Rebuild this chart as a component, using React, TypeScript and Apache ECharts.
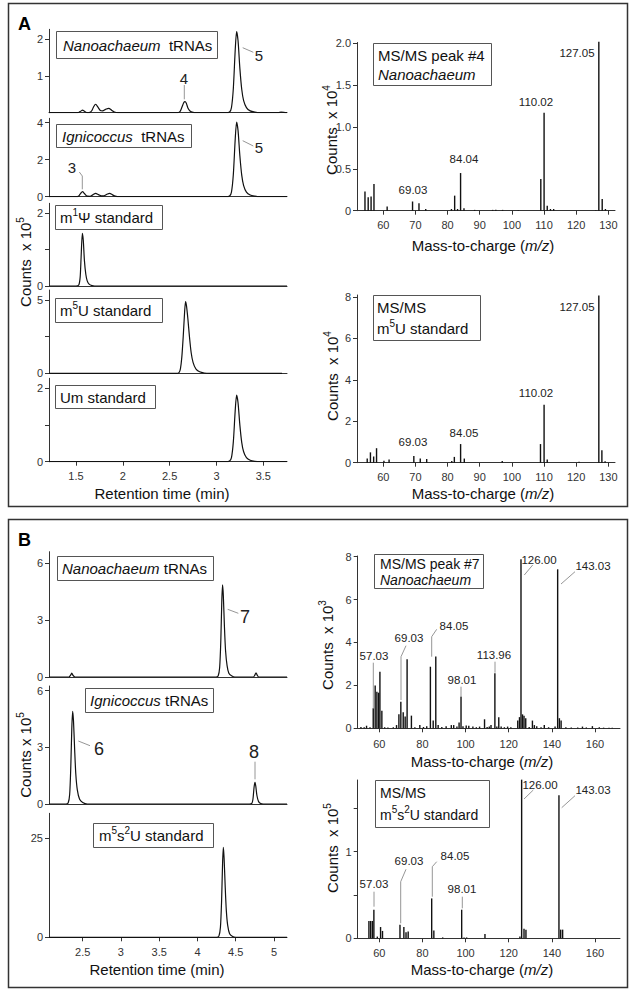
import React, { useEffect, useRef } from "react";
import * as echarts from "echarts";

const FONT = "'Liberation Sans', Arial, Helvetica, sans-serif";
const INK = "#111";
const AXIS = "#333";
const LEAD = "#8a8a8a";

// ---------------- Panel A: chromatograms (retention time, min ; counts x10^5)
const aNanoTrace = [
  [1.212, 0], [1.5, 0], [1.53, 0.01], [1.55, 0.04], [1.57, 0.07], [1.59, 0.04], [1.62, 0], [1.65, 0.01],
  [1.67, 0.06], [1.69, 0.17], [1.71, 0.23], [1.735, 0.15], [1.76, 0.06], [1.785, 0.05], [1.815, 0.09],
  [1.85, 0.12], [1.88, 0.07], [1.91, 0.02], [1.95, 0], [2.58, 0], [2.61, 0.03], [2.63, 0.14], [2.65, 0.27],
  [2.664, 0.3], [2.678, 0.26], [2.695, 0.13], [2.72, 0.04], [2.75, 0.01], [2.78, 0], [3.1, 0], [3.14, 0.02],
  [3.16, 0.14], [3.18, 0.66], [3.2, 1.7], [3.215, 2.21], [3.23, 1.97], [3.25, 1.2], [3.27, 0.63], [3.29, 0.33],
  [3.32, 0.14], [3.36, 0.05], [3.41, 0.015], [3.46, 0], [3.66, 0], [3.69, 0.015], [3.72, 0.01], [3.753, 0],
];
const aIgniTrace = [
  [1.212, 0], [1.5, 0], [1.53, 0.04], [1.55, 0.18], [1.57, 0.27], [1.59, 0.17], [1.62, 0.03], [1.65, 0.02],
  [1.68, 0.1], [1.71, 0.18], [1.74, 0.11], [1.77, 0.04], [1.8, 0.05], [1.83, 0.13], [1.86, 0.18], [1.89, 0.1],
  [1.92, 0.03], [1.96, 0], [3.1, 0], [3.14, 0.04], [3.16, 0.25], [3.18, 1.2], [3.2, 3.1], [3.215, 4.04],
  [3.23, 3.6], [3.25, 2.2], [3.27, 1.15], [3.29, 0.6], [3.32, 0.25], [3.36, 0.09], [3.41, 0.03], [3.46, 0], [3.753, 0],
];
const aM1PsiTrace = [
  [1.212, 0], [1.5, 0], [1.53, 0.03], [1.545, 0.25], [1.555, 0.8], [1.568, 1.44], [1.578, 1.25], [1.59, 0.7],
  [1.605, 0.32], [1.62, 0.14], [1.64, 0.05], [1.67, 0.01], [1.7, 0], [3.753, 0],
];
const aM5UTrace = [
  [1.212, 0], [2.57, 0], [2.6, 0.05], [2.615, 0.3], [2.63, 1.1], [2.645, 2.5], [2.66, 4.2], [2.67, 4.89],
  [2.68, 4.6], [2.695, 3.7], [2.71, 2.6], [2.73, 1.4], [2.75, 0.75], [2.78, 0.3], [2.82, 0.1], [2.87, 0.02],
  [2.93, 0], [3.7, 0],
];
const aUmTrace = [
  [1.212, 0], [3.1, 0], [3.14, 0.02], [3.16, 0.11], [3.18, 0.54], [3.2, 1.39], [3.215, 1.81], [3.23, 1.61],
  [3.25, 0.99], [3.27, 0.52], [3.29, 0.27], [3.32, 0.11], [3.36, 0.04], [3.41, 0.01], [3.46, 0], [3.753, 0],
];

// ---------------- Panel A: MS/MS spectra (m/z ; counts x10^4)
const aMsPeak4 = [
  [54.3, 0.23], [55.3, 0.16], [56.2, 0.17], [57.1, 0.32], [61.2, 0.05], [69.1, 0.11], [71.1, 0.09], [73.2, 0.02],
  [81.2, 0.02], [82.2, 0.18], [83.1, 0.02], [84.04, 0.45], [85.1, 0.03], [88.4, 0.01], [94.0, 0.01], [95.0, 0.01],
  [97.1, 0.01], [102.0, 0.005], [109.0, 0.38], [110.02, 1.17], [111.0, 0.06], [112.0, 0.02], [113.0, 0.02],
  [126.1, 0.005], [127.05, 2.02], [128.1, 0.14], [129.1, 0.02],
];
const aMsM5U = [
  [55.0, 0.2], [56.0, 0.5], [57.0, 0.3], [57.9, 0.7], [60.2, 0.1], [61.8, 0.15], [69.5, 0.32], [71.5, 0.2],
  [73.5, 0.18], [81.3, 0.08], [82.1, 0.28], [84.05, 0.9], [85.2, 0.2], [97.0, 0.08], [108.9, 0.9], [110.02, 2.8],
  [111.0, 0.15], [120.9, 0.05], [127.05, 8.07], [128.0, 0.6], [129.0, 0.07],
];

// ---------------- Panel B: chromatograms (retention time, min ; counts x10^5)
const bNanoTrace = [
  [2.06, 0], [2.32, 0], [2.34, 0.08], [2.357, 0.2], [2.375, 0.08], [2.4, 0], [4.24, 0], [4.27, 0.05], [4.29, 0.5],
  [4.305, 1.9], [4.318, 4.0], [4.328, 4.86], [4.338, 4.3], [4.352, 2.7], [4.367, 1.4], [4.387, 0.6], [4.41, 0.2],
  [4.45, 0.05], [4.49, 0], [4.73, 0], [4.75, 0.1], [4.765, 0.22], [4.78, 0.1], [4.8, 0], [5.17, 0],
];
const bIgniTrace = [
  [2.06, 0], [2.28, 0], [2.31, 0.05], [2.33, 0.5], [2.345, 2.0], [2.358, 4.0], [2.369, 4.9], [2.38, 4.4],
  [2.395, 2.9], [2.41, 1.6], [2.43, 0.75], [2.46, 0.25], [2.5, 0.08], [2.56, 0], [4.68, 0], [4.71, 0.03],
  [4.725, 0.25], [4.74, 0.9], [4.752, 1.15], [4.762, 0.95], [4.777, 0.45], [4.797, 0.15], [4.82, 0.04], [4.86, 0],
  [5.17, 0],
];
const bM5s2UTrace = [
  [2.06, 0], [4.25, 0], [4.28, 0.3], [4.3, 2.5], [4.315, 9], [4.328, 18.5], [4.338, 22.7], [4.348, 20],
  [4.362, 13], [4.377, 6.8], [4.395, 3], [4.42, 0.9], [4.46, 0.2], [4.5, 0], [5.17, 0],
];

// ---------------- Panel B: MS/MS spectra
const bMsPeak7 = [ // counts x10^3
  [51.5, 0.06], [53.0, 0.05], [54.1, 0.12], [55.7, 0.05], [57.2, 0.93], [58.1, 2.0], [58.9, 1.7], [59.7, 1.66],
  [60.3, 2.64], [61.2, 0.82], [62.5, 0.05], [64.0, 0.04], [66.5, 0.05], [68.0, 0.15], [69.1, 0.65], [70.0, 1.24],
  [71.1, 0.75], [72.0, 0.55], [72.9, 3.22], [74.9, 0.59], [76.5, 0.05], [78.8, 0.15], [80.5, 0.06], [82.0, 0.1],
  [83.7, 2.87], [85.0, 0.36], [86.2, 3.35], [87.3, 0.15], [89.0, 0.06], [91.0, 0.1], [93.4, 0.15], [94.5, 0.15],
  [96.0, 0.08], [97.0, 0.27], [97.9, 1.48], [98.8, 0.1], [100.3, 0.13], [101.5, 0.12], [103.4, 0.08], [105.0, 0.05],
  [106.5, 0.08], [108.8, 0.42], [110.0, 0.06], [111.0, 0.08], [111.8, 0.15], [113.6, 2.57], [114.5, 0.08],
  [115.4, 0.52], [116.5, 0.08], [118.0, 0.05], [119.5, 0.08], [121.0, 0.05], [124.2, 0.36], [125.0, 0.52],
  [125.7, 7.88], [126.4, 0.65], [127.1, 0.58], [127.9, 0.47], [129.5, 0.06], [131.0, 0.36], [131.9, 0.15],
  [133.0, 0.1], [135.0, 0.05], [136.5, 0.15], [138.5, 0.05], [141.5, 0.08], [142.7, 7.41], [143.5, 0.47],
  [144.3, 0.36], [146.5, 0.05], [149.0, 0.04], [152.0, 0.04], [154.2, 0.08], [156.0, 0.04], [158.8, 0.1],
  [162.0, 0.05], [164.0, 0.03], [166.5, 0.03], [168.0, 0.03],
];
const bMsM5s2U = [ // counts x10^5
  [55.2, 0.2], [56.0, 0.2], [56.8, 0.2], [57.5, 0.33], [59.1, 0.02], [60.6, 0.13], [61.5, 0.085], [69.6, 0.155],
  [71.4, 0.13], [72.4, 0.07], [73.4, 0.077], [84.3, 0.46], [85.3, 0.09], [89.4, 0.01], [98.2, 0.33], [99.3, 0.01],
  [100.5, 0.01], [109.0, 0.05], [125.2, 0.02], [126.0, 1.83], [127.1, 0.11], [128.0, 0.1], [143.3, 1.65],
  [144.1, 0.1], [145.0, 0.1],
];

// ---------------- Tick values
const aRetTicks = [1.5, 2, 2.5, 3, 3.5];
const bRetTicks = [2.5, 3, 3.5, 4, 4.5, 5];
const aMzTicks = [60, 70, 80, 90, 100, 110, 120, 130];
const bMzTicks = [60, 80, 100, 120, 140, 160];
const yTicksANano = [1, 2];
const yTicksAIgni = [0, 2, 4];
const yTicksStd2 = [0, 1, 2];
const yLabelsStd2 = [0, 2];
const yTicksM5U = [0, 2.5, 5];
const yLabelsM5U = [0, 5];
const yTicksMs4 = [0, 0.5, 1, 1.5, 2];
const yTicksMs8 = [0, 2, 4, 6, 8];
const yTicksB6 = [0, 3, 6];
const yTicksB25 = [0, 25];
const yTicksMsB5 = [0, 0.5, 1, 1.5];
const yLabelsMsB5 = [0, 1];

// ---------------- Layout (pixels)
const PANELS = [
  { x: 8.5, y: 3.5, w: 619, h: 503, letter: "A" },
  { x: 8.5, y: 519.5, w: 619, h: 468, letter: "B" },
];

const fmt1 = (v: number) => (v === 0 ? "0" : v.toFixed(1));

const CHARTS: any[] = [
  { g: [49, 29.3, 238, 83.4], x: [1.212, 3.753], y: [0, 2.27], yt: yTicksANano, yl: yTicksANano, data: aNanoTrace, kind: "line" },
  { g: [49, 118.3, 238, 78.4], x: [1.212, 3.753], y: [0, 4.24], yt: yTicksAIgni, yl: yTicksAIgni, data: aIgniTrace, kind: "line" },
  { g: [49, 203.3, 238, 82.7], x: [1.212, 3.753], y: [0, 2.26], yt: yTicksStd2, yl: yLabelsStd2, data: aM1PsiTrace, kind: "line" },
  { g: [49, 290, 238, 83.3], x: [1.212, 3.753], y: [0, 5.68], yt: yTicksM5U, yl: yLabelsM5U, data: aM5UTrace, kind: "line" },
  { g: [49, 378.3, 238, 83.4], x: [1.212, 3.753], y: [0, 2.27], yt: yTicksStd2, yl: yLabelsStd2, data: aUmTrace, kind: "line", xt: aRetTicks, xm: 9 },
  { g: [357, 42.5, 258, 168.2], x: [51.82, 132.08], y: [0, 2.01], yt: yTicksMs4, yl: yTicksMs4, yf: fmt1, data: aMsPeak4, kind: "bar", xt: aMzTicks, xm: 9 },
  { g: [357, 295, 258, 167.7], x: [51.82, 132.08], y: [0, 8.1], yt: yTicksMs8, yl: yTicksMs8, data: aMsM5U, kind: "bar", xt: aMzTicks, xm: 9 },
  { g: [49, 551.7, 238, 125.3], x: [2.06, 5.17], y: [0, 6.61], yt: yTicksB6, yl: yTicksB6, data: bNanoTrace, kind: "line" },
  { g: [49, 686, 238, 118], x: [2.06, 5.17], y: [0, 6.24], yt: yTicksB6, yl: yTicksB6, data: bIgniTrace, kind: "line" },
  { g: [49, 813.3, 238, 124], x: [2.06, 5.17], y: [0, 31.3], yt: yTicksB25, yl: yTicksB25, data: bM5s2UTrace, kind: "line", xt: bRetTicks, xm: 9 },
  { g: [357.7, 556, 262.3, 172.3], x: [50, 171.6], y: [0, 8.03], yt: yTicksMs8, yl: yTicksMs8, data: bMsPeak7, kind: "bar", xt: bMzTicks, xm: 10 },
  { g: [357.7, 780, 262.3, 158.3], x: [50, 171.6], y: [0, 1.826], yt: yTicksMsB5, yl: yLabelsMsB5, data: bMsM5s2U, kind: "bar", xt: bMzTicks, xm: 9 },
];

const BOXES = [
  { x: 56, y: 31, w: 161, h: 27, tx: 63, fs: 15, lh: 20, text: "{i|Nanoachaeum}  tRNAs" },
  { x: 56, y: 124, w: 135, h: 23, tx: 62, fs: 15, lh: 20, text: "{i|Ignicoccus}  tRNAs" },
  { x: 55, y: 205, w: 107, h: 24, tx: 60, fs: 15, lh: 20, text: "m{s|1}Ψ standard" },
  { x: 55, y: 298, w: 107, h: 24, tx: 60, fs: 15, lh: 20, text: "m{s|5}U standard" },
  { x: 55, y: 385, w: 100, h: 23, tx: 60, fs: 15, lh: 20, text: "Um standard" },
  { x: 373, y: 43, w: 118, h: 42, tx: 378, fs: 15, lh: 19, text: "MS/MS peak #4\n{i|Nanoachaeum}" },
  { x: 373, y: 295, w: 107, h: 45, tx: 377, fs: 15, lh: 21, text: "MS/MS\nm{s|5}U standard" },
  { x: 57, y: 556, w: 156, h: 24, tx: 62, fs: 15, lh: 20, text: "{i|Nanoachaeum} tRNAs" },
  { x: 85, y: 688, w: 128, h: 24, tx: 90, fs: 15, lh: 20, text: "{i|Ignicoccus} tRNAs" },
  { x: 93, y: 823, w: 120, h: 24, tx: 99, fs: 15, lh: 20, text: "m{s|5}s{s|2}U standard" },
  { x: 374, y: 554, w: 109, h: 34, tx: 380, fs: 14, lh: 16, text: "MS/MS peak #7\n{i|Nanoachaeum}" },
  { x: 375, y: 780, w: 114, h: 47, tx: 380, fs: 14, lh: 22, text: "MS/MS\nm{s|5}s{s|2}U standard" },
];

const NOTES = [
  { x: 259, y: 55, t: "5", fs: 15 }, { x: 184, y: 78, t: "4", fs: 15 }, { x: 259, y: 147, t: "5", fs: 15 },
  { x: 72, y: 167, t: "3", fs: 15 }, { x: 245, y: 617, t: "7", fs: 18 }, { x: 99, y: 749, t: "6", fs: 18 },
  { x: 254, y: 752, t: "8", fs: 18 },
  { x: 577, y: 53, t: "127.05", fs: 11.5 }, { x: 536, y: 102, t: "110.02", fs: 11.5 },
  { x: 464, y: 159, t: "84.04", fs: 11.5 }, { x: 413, y: 190, t: "69.03", fs: 11.5 },
  { x: 577, y: 307, t: "127.05", fs: 11.5 }, { x: 536, y: 393, t: "110.02", fs: 11.5 },
  { x: 464, y: 433, t: "84.05", fs: 11.5 }, { x: 413, y: 442, t: "69.03", fs: 11.5 },
  { x: 539, y: 560, t: "126.00", fs: 11.5 }, { x: 593, y: 566, t: "143.03", fs: 11.5 },
  { x: 454, y: 626, t: "84.05", fs: 11.5 }, { x: 409, y: 638, t: "69.03", fs: 11.5 },
  { x: 374, y: 656, t: "57.03", fs: 11.5 }, { x: 462, y: 680, t: "98.01", fs: 11.5 },
  { x: 494, y: 655, t: "113.96", fs: 11.5 },
  { x: 540, y: 785, t: "126.00", fs: 11.5 }, { x: 593, y: 790, t: "143.03", fs: 11.5 },
  { x: 455, y: 856, t: "84.05", fs: 11.5 }, { x: 409, y: 861, t: "69.03", fs: 11.5 },
  { x: 374, y: 884, t: "57.03", fs: 11.5 }, { x: 462, y: 889, t: "98.01", fs: 11.5 },
];

const LEADERS = [
  [[242.7, 47.7], [253.3, 52.3]], [[184.3, 85], [184.3, 99.3]], [[242.7, 140.7], [253.3, 146]],
  [[79.3, 172], [82.3, 176], [82.3, 189.3]], [[227.7, 609.3], [238.3, 613.3]], [[78.3, 741], [90, 745.7]],
  [[255, 761.7], [255, 779.3]],
  [[524.3, 575], [532.7, 565]], [[561, 584], [575, 571.7]], [[431.7, 656.7], [431.7, 636.7], [436.7, 629.3]],
  [[401, 700], [401, 656.7], [406, 645.7]], [[373.3, 662.7], [373.3, 708.3]], [[461, 686.7], [461, 696]],
  [[495, 661.7], [495, 672.7]],
  [[524, 799], [533.3, 790]], [[561.7, 807.7], [575, 795.7]], [[432.3, 896.7], [432.3, 866.7], [436.7, 861.7]],
  [[400.7, 923.3], [400.7, 881.7], [406, 869.3]], [[374, 891.7], [374, 906.7]], [[462.3, 896.7], [462.3, 908.3]],
];

const X_TITLES = [
  { x: 162, y: 493, t: "Retention time (min)" }, { x: 483, y: 245, t: "Mass-to-charge ({i|m/z})" },
  { x: 483, y: 493, t: "Mass-to-charge ({i|m/z})" }, { x: 157, y: 969, t: "Retention time (min)" },
  { x: 482, y: 761, t: "Mass-to-charge ({i|m/z})" }, { x: 482, y: 969, t: "Mass-to-charge ({i|m/z})" },
];
const Y_TITLES = [
  { x: 25, y: 262, t: "Counts  x 10{s|5}" }, { x: 331, y: 130, t: "Counts  x 10{s|4}" },
  { x: 332, y: 376, t: "Counts  x 10{s|4}" }, { x: 25, y: 755, t: "Counts x 10{s|5}" },
  { x: 327, y: 645, t: "Counts  x 10{s|3}" }, { x: 332, y: 848, t: "Counts  x 10{s|5}" },
];

function richFor(fs: number, lh: number) {
  return {
    i: { fontStyle: "italic", fontSize: fs, fontFamily: FONT, fill: INK, lineHeight: lh },
    s: { fontSize: Math.round(fs * 0.68), fontFamily: FONT, fill: INK, lineHeight: Math.round(fs * 0.68), verticalAlign: "top" },
  };
}

const barRender = (_p: any, api: any) => {
  const x = api.value(0);
  const y = api.value(1);
  const p0 = api.coord([x, 0]);
  const p1 = api.coord([x, y]);
  return {
    type: "line",
    shape: { x1: p0[0], y1: p0[1], x2: p1[0], y2: p1[1] },
    style: { stroke: INK, lineWidth: 1.4 },
  };
};

function buildOption() {
  const tickFont = { fontSize: 11, color: AXIS, fontFamily: FONT };
  const grid = CHARTS.map((c) => ({ left: c.g[0], top: c.g[1], width: c.g[2], height: c.g[3] }));
  const xAxis = CHARTS.map((c, i) => ({
    type: "value", gridIndex: i, min: c.x[0], max: c.x[1],
    axisLine: { show: true, onZero: false, lineStyle: { color: AXIS, width: 1 } },
    axisTick: c.xt ? { show: true, length: 4, customValues: c.xt, lineStyle: { color: AXIS, width: 1 } } : { show: false },
    axisLabel: c.xt ? { show: true, customValues: c.xt, margin: c.xm, ...tickFont, formatter: (v: number) => String(v) } : { show: false },
    splitLine: { show: false },
  }));
  const yAxis = CHARTS.map((c, i) => ({
    type: "value", gridIndex: i, min: c.y[0], max: c.y[1],
    axisLine: { show: true, onZero: false, lineStyle: { color: AXIS, width: 1 } },
    axisTick: { show: true, length: 4, customValues: c.yt, lineStyle: { color: AXIS, width: 1 } },
    axisLabel: { show: true, customValues: c.yl, margin: 6, ...tickFont, formatter: c.yf || ((v: number) => String(v)) },
    splitLine: { show: false },
  }));
  const series = CHARTS.map((c, i) =>
    c.kind === "line"
      ? {
          type: "line", xAxisIndex: i, yAxisIndex: i, data: c.data, showSymbol: false, symbol: "none",
          smooth: 0.25, lineStyle: { color: INK, width: 1.2 }, silent: true, clip: true,
        }
      : {
          type: "custom", xAxisIndex: i, yAxisIndex: i, data: c.data, renderItem: barRender,
          encode: { x: 0, y: 1 }, silent: true,
        }
  );

  const elements: any[] = [];
  PANELS.forEach((p) => {
    elements.push({ type: "rect", shape: { x: p.x, y: p.y, width: p.w, height: p.h }, style: { fill: "none", stroke: AXIS, lineWidth: 1.5 }, z: 50 });
    elements.push({ type: "text", x: 18, y: p.y + 20.5, style: { text: p.letter, fontSize: 18, fontWeight: "bold", fontFamily: FONT, fill: "#000", align: "left", verticalAlign: "middle" }, z: 50 });
  });
  BOXES.forEach((b) => {
    elements.push({ type: "rect", shape: { x: b.x + 0.5, y: b.y + 0.5, width: b.w, height: b.h }, style: { fill: "#fff", stroke: "#555", lineWidth: 1 }, z: 60 });
    elements.push({
      type: "text", x: b.tx, y: b.y + b.h / 2 + 0.5,
      style: { text: b.text, fontSize: b.fs, fontFamily: FONT, fill: INK, align: "left", verticalAlign: "middle", lineHeight: b.lh, rich: richFor(b.fs, b.lh) },
      z: 61,
    });
  });
  LEADERS.forEach((pts) => {
    elements.push({ type: "polyline", shape: { points: pts }, style: { stroke: LEAD, lineWidth: 0.9, fill: "none" }, z: 55 });
  });
  NOTES.forEach((n) => {
    elements.push({ type: "text", x: n.x, y: n.y, style: { text: n.t, fontSize: n.fs, fontFamily: FONT, fill: "#222", align: "center", verticalAlign: "middle" }, z: 56 });
  });
  X_TITLES.forEach((t) => {
    elements.push({ type: "text", x: t.x, y: t.y, style: { text: t.t, fontSize: 15, fontFamily: FONT, fill: INK, align: "center", verticalAlign: "middle", lineHeight: 17, rich: richFor(15, 17) }, z: 56 });
  });
  Y_TITLES.forEach((t) => {
    elements.push({ type: "text", x: t.x, y: t.y, rotation: Math.PI / 2, style: { text: t.t, fontSize: 15, fontFamily: FONT, fill: INK, align: "center", verticalAlign: "middle", lineHeight: 20, rich: richFor(15, 20) }, z: 56 });
  });

  return {
    animation: false,
    backgroundColor: "#fff",
    grid, xAxis, yAxis, series,
    graphic: { elements },
  };
}

export default function App() {
  const ref = useRef<HTMLDivElement>(null);
  useEffect(() => {
    document.body.style.margin = "0";
    document.body.style.overflow = "hidden";
    const chart = echarts.init(ref.current!, null, { renderer: "svg" });
    chart.setOption(buildOption() as any);
    return () => chart.dispose();
  }, []);
  return <div ref={ref} style={{ width: 633, height: 992 }} />;
}
